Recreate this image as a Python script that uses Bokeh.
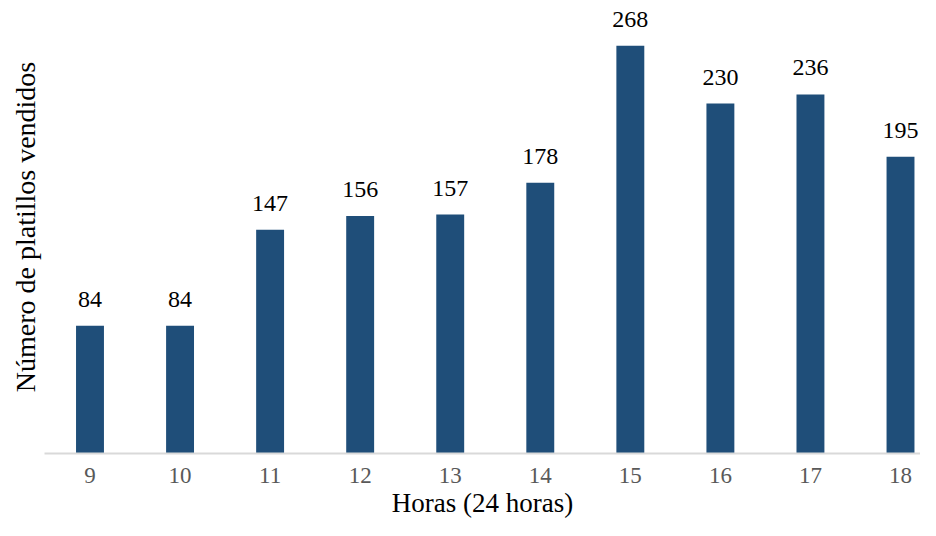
from bokeh.plotting import figure
from bokeh.models import Range1d, FixedTicker, ColumnDataSource
from bokeh.core.properties import value
from bokeh.embed import file_html
from bokeh.resources import INLINE

horas = [9, 10, 11, 12, 13, 14, 15, 16, 17, 18]
platillos = [84, 84, 147, 156, 157, 178, 268, 230, 236, 195]
etiquetas = [str(v) for v in platillos]

src = ColumnDataSource(dict(x=horas, y=platillos, t=etiquetas))

p = figure(width=920, height=520, output_backend="svg", toolbar_location=None,
           x_range=Range1d(8.4948, 18.222), y_range=Range1d(0, 297.7),
           min_border_left=44, min_border_right=0, min_border_top=0, min_border_bottom=0)
p.outline_line_color = None
p.xgrid.visible = False
p.ygrid.visible = False

p.vbar(x="x", top="y", width=0.31, bottom=0, source=src, fill_color="#1f4e79", line_color=None)
p.text(x="x", y="y", text="t", source=src, text_align="center", text_baseline="bottom",
       y_offset=-19, text_font=value("Liberation Serif"), text_font_size="24px", text_color="#000000")

xa = p.xaxis[0]
xa.ticker = FixedTicker(ticks=horas)
xa.axis_line_color = "#d9d9d9"
xa.axis_line_width = 2
xa.major_tick_line_color = None
xa.minor_tick_line_color = None
xa.major_label_text_font = "Liberation Serif"
xa.major_label_text_font_size = "23px"
xa.major_label_text_color = "#595959"
xa.major_label_standoff = 8
xa.axis_label = "Horas (24 horas)"
xa.axis_label_text_font = "Liberation Serif"
xa.axis_label_text_font_size = "27px"
xa.axis_label_text_font_style = "normal"
xa.axis_label_text_color = "#000000"
xa.axis_label_standoff = 2

ya = p.yaxis[0]
ya.ticker = FixedTicker(ticks=[])
ya.axis_line_color = None
ya.major_tick_line_color = None
ya.minor_tick_line_color = None
ya.axis_label = "Número de platillos vendidos"
ya.axis_label_text_font = "Liberation Serif"
ya.axis_label_text_font_size = "28px"
ya.axis_label_text_font_style = "normal"
ya.axis_label_text_color = "#000000"
ya.axis_label_standoff = 4

open("out.html", "w").write(file_html(p, INLINE))
